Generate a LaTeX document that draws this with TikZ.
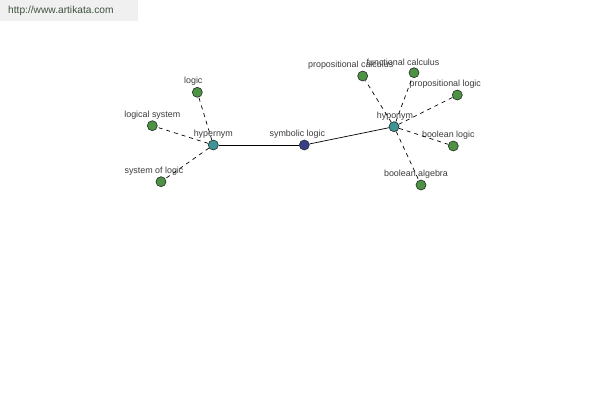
\documentclass[tikz,border=0pt]{standalone}
\usepackage{fontspec}
\setmainfont{Liberation Sans}
\usepackage{tikz}

\definecolor{leafgreen}{RGB}{78,146,68}
\definecolor{hubteal}{RGB}{62,148,150}
\definecolor{rootblue}{RGB}{58,62,138}
\definecolor{rimdark}{RGB}{30,45,35}
\definecolor{labelgray}{RGB}{60,60,60}
\definecolor{markgray}{RGB}{240,240,240}
\definecolor{marktext}{RGB}{62,82,62}

\tikzset{
	word/.style = {circle, draw = rimdark, line width = 0.6pt, inner sep = 0pt, minimum size = 10pt},
	leaf/.style = {word, fill = leafgreen},
	hub/.style = {word, fill = hubteal},
	root/.style = {word, fill = rootblue},
	tag/.style = {font = \fontsize{8.9}{9}\selectfont, text = labelgray, inner sep = 0pt, label distance = 1.2pt},
	link/.style = {line width = 0.7pt},
	branch/.style = {line width = 0.7pt, dash pattern = on 4pt off 4pt}
}

\begin{document}
\begin{tikzpicture}[x = 1pt, y = -1pt]
	\useasboundingbox (0, 0) rectangle (600, 400);
	\fill [white] (0, 0) rectangle (600, 400);
	% watermark
	\fill [markgray] (0, 0) rectangle (138, 21);
	\node [anchor = west, inner sep = 0pt, text = marktext, font = \fontsize{10.2}{11}\selectfont] (site) at (8, 11) {http://www.artikata.com};
	% hub nodes
	\node [hub, label = {[tag]above:hypernym}] (hyper) at (213.3, 145) {};
	\node [root, label = {[tag, xshift = -7pt]above:symbolic logic}] (symb) at (304.3, 145) {};
	\node [hub, label = {[tag, xshift = 1pt]above:hyponym}] (hypo) at (394, 126.7) {};
	% leaves of hypernym
	\node [leaf, label = {[tag, xshift = -4pt]above:logic}] (logic) at (197.3, 92.3) {};
	\node [leaf, label = {[tag]above:logical system}] (lsys) at (152.3, 125.7) {};
	\node [leaf, label = {[tag, xshift = -7pt]above:system of logic}] (sysl) at (161, 181.7) {};
	% leaves of hyponym
	\node [leaf, label = {[tag, xshift = -12pt]above:propositional calculus}] (pcalc) at (362.7, 76) {};
	\node [leaf, label = {[tag, xshift = -11pt]above:functional calculus}] (fcalc) at (414, 72.7) {};
	\node [leaf, label = {[tag, xshift = -12pt]above:propositional logic}] (plog) at (457.3, 95) {};
	\node [leaf, label = {[tag, xshift = -5pt]above:boolean logic}] (blog) at (453.3, 146) {};
	\node [leaf, label = {[tag, xshift = -5pt]above:boolean algebra}] (balg) at (421, 185) {};
	% connectors
	\draw [link] (hyper) -- (symb);
	\draw [link] (symb) -- (hypo);
	\foreach \w in {logic, lsys, sysl}
		\draw [branch] (hyper) -- (\w);
	\foreach \w in {pcalc, fcalc, plog, blog, balg}
		\draw [branch] (hypo) -- (\w);
\end{tikzpicture}
\end{document}
